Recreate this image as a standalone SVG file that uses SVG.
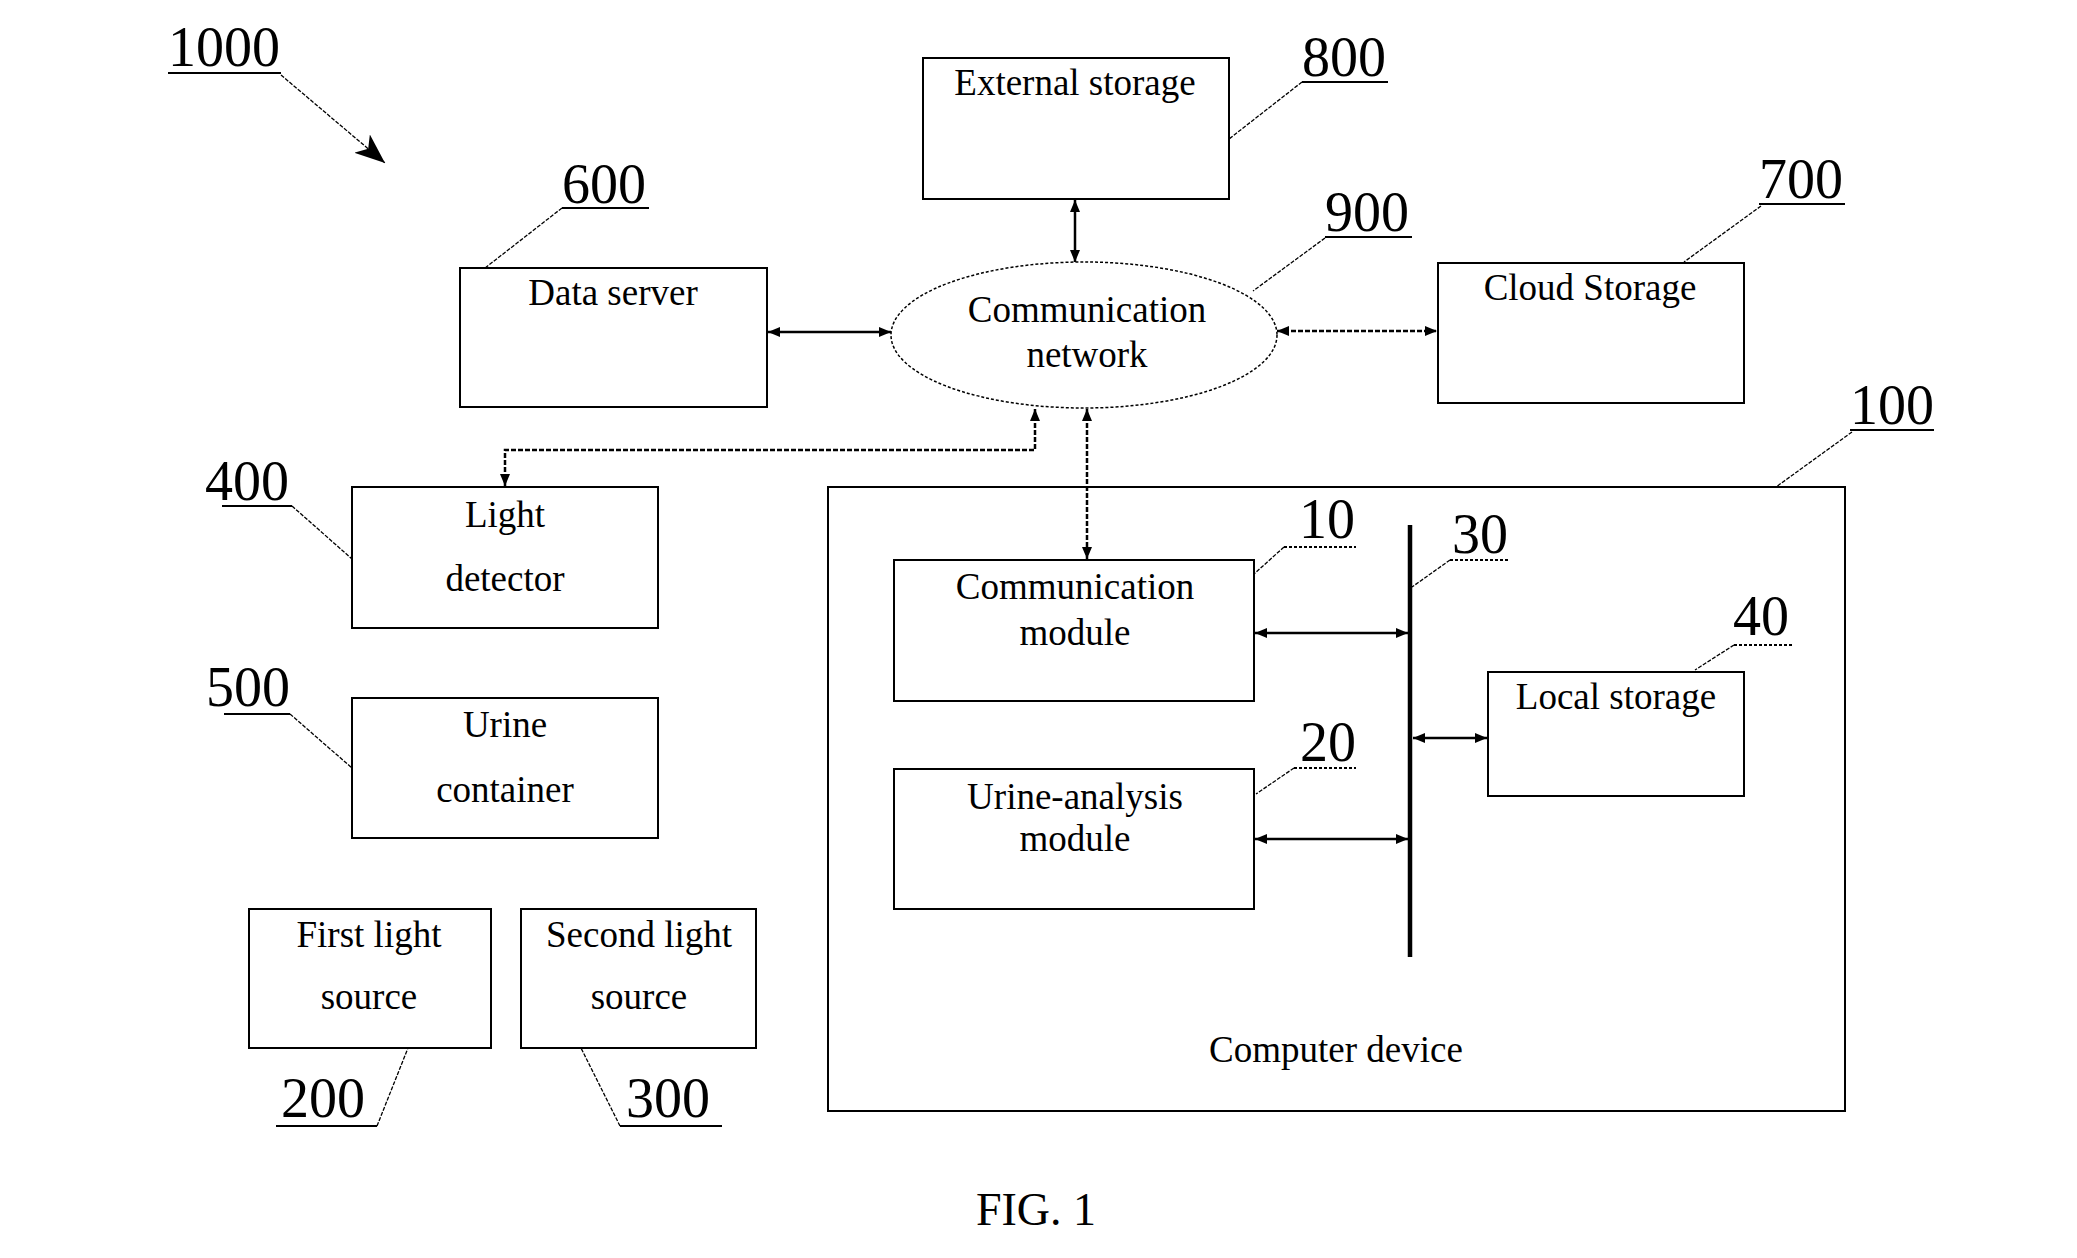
<svg xmlns="http://www.w3.org/2000/svg" width="2077" height="1258" viewBox="0 0 2077 1258">
<style>
.box{fill:#fff;stroke:#000;stroke-width:2}
.t{font-family:"Liberation Serif","Times New Roman",serif;font-size:37px;fill:#000;text-anchor:middle}
.n{font-family:"Liberation Serif","Times New Roman",serif;font-size:56px;fill:#000}
.ul{stroke:#000;stroke-width:2}
.uld{stroke:#000;stroke-width:2;stroke-dasharray:3 2}
.lead{fill:none;stroke:#000;stroke-width:1.3;stroke-dasharray:4 1.5}
.c{fill:none;stroke:#000;stroke-width:2.5}
.cd{fill:none;stroke:#000;stroke-width:2.5;stroke-dasharray:5 2}
</style>
<defs>
<marker id="ah" viewBox="0 0 12 10" refX="12" refY="5" markerWidth="12" markerHeight="10" markerUnits="userSpaceOnUse" orient="auto-start-reverse">
<path d="M0,0 L12,5 L0,10 Z" fill="#000"/>
</marker>
<marker id="big" viewBox="0 0 30 24" refX="30" refY="12" markerWidth="30" markerHeight="24" markerUnits="userSpaceOnUse" orient="auto">
<path d="M0,0 L30,12 L0,24 L8,12 Z" fill="#000"/>
</marker>
</defs>

<g id="label-1000">
<text class="n" x="168" y="66">1000</text>
<line class="ul" x1="168" y1="73" x2="281" y2="73"/>
<line class="lead" x1="281" y1="75" x2="385" y2="163" marker-end="url(#big)"/>
</g>

<g id="node-800">
<rect class="box" x="923" y="58" width="306" height="141"/>
<text class="t" x="1075" y="95">External storage</text>
<text class="n" x="1302" y="76">800</text>
<line class="ul" x1="1302" y1="82" x2="1388" y2="82"/>
<line class="lead" x1="1302" y1="82" x2="1229" y2="139"/>
</g>

<g id="node-600">
<rect class="box" x="460" y="268" width="307" height="139"/>
<text class="t" x="613" y="305">Data server</text>
<text class="n" x="562" y="203">600</text>
<line class="ul" x1="562" y1="208" x2="649" y2="208"/>
<line class="lead" x1="562" y1="208" x2="485" y2="268"/>
</g>

<g id="node-900">
<ellipse cx="1084" cy="335" rx="193" ry="73" fill="#fff" stroke="#000" stroke-width="1.5" stroke-dasharray="3 2"/>
<text class="t" x="1087" y="322">Communication</text>
<text class="t" x="1087" y="367">network</text>
<text class="n" x="1325" y="231">900</text>
<line class="ul" x1="1325" y1="237" x2="1412" y2="237"/>
<line class="lead" x1="1325" y1="238" x2="1253" y2="291"/>
</g>

<g id="node-700">
<rect class="box" x="1438" y="263" width="306" height="140"/>
<text class="t" x="1590" y="300">Cloud Storage</text>
<text class="n" x="1759" y="198">700</text>
<line class="ul" x1="1759" y1="204" x2="1845" y2="204"/>
<line class="lead" x1="1761" y1="206" x2="1684" y2="262"/>
</g>

<g id="node-400">
<rect class="box" x="352" y="487" width="306" height="141"/>
<text class="t" x="505" y="527">Light</text>
<text class="t" x="505" y="591">detector</text>
<text class="n" x="205" y="500">400</text>
<line class="ul" x1="222" y1="506" x2="292" y2="506"/>
<line class="lead" x1="292" y1="506" x2="352" y2="559"/>
</g>

<g id="node-500">
<rect class="box" x="352" y="698" width="306" height="140"/>
<text class="t" x="505" y="737">Urine</text>
<text class="t" x="505" y="802">container</text>
<text class="n" x="206" y="706">500</text>
<line class="ul" x1="224" y1="714" x2="290" y2="714"/>
<line class="lead" x1="290" y1="714" x2="352" y2="768"/>
</g>

<g id="node-200">
<rect class="box" x="249" y="909" width="242" height="139"/>
<text class="t" x="369" y="947">First light</text>
<text class="t" x="369" y="1009">source</text>
<text class="n" x="281" y="1117">200</text>
<line class="ul" x1="276" y1="1126" x2="377" y2="1126"/>
<line class="lead" x1="377" y1="1126" x2="408" y2="1048"/>
</g>

<g id="node-300">
<rect class="box" x="521" y="909" width="235" height="139"/>
<text class="t" x="639" y="947">Second light</text>
<text class="t" x="639" y="1009">source</text>
<text class="n" x="626" y="1117">300</text>
<line class="ul" x1="620" y1="1126" x2="722" y2="1126"/>
<line class="lead" x1="620" y1="1126" x2="581" y2="1048"/>
</g>

<g id="node-100">
<rect class="box" x="828" y="487" width="1017" height="624"/>
<text class="t" x="1336" y="1062">Computer device</text>
<text class="n" x="1850" y="424">100</text>
<line class="ul" x1="1850" y1="430" x2="1934" y2="430"/>
<line class="lead" x1="1852" y1="432" x2="1776" y2="487"/>
</g>

<g id="node-10">
<rect class="box" x="894" y="560" width="360" height="141"/>
<text class="t" x="1075" y="599">Communication</text>
<text class="t" x="1075" y="645">module</text>
<text class="n" x="1299" y="538">10</text>
<line class="uld" x1="1284" y1="547" x2="1356" y2="547"/>
<line class="lead" x1="1284" y1="547" x2="1254" y2="574"/>
</g>

<g id="node-20">
<rect class="box" x="894" y="769" width="360" height="140"/>
<text class="t" x="1075" y="809">Urine-analysis</text>
<text class="t" x="1075" y="851">module</text>
<text class="n" x="1300" y="761">20</text>
<line class="uld" x1="1294" y1="768" x2="1356" y2="768"/>
<line class="lead" x1="1294" y1="768" x2="1256" y2="794"/>
</g>

<g id="node-30">
<line x1="1410" y1="525" x2="1410" y2="957" stroke="#000" stroke-width="4.5"/>
<text class="n" x="1452" y="553">30</text>
<line class="uld" x1="1450" y1="560" x2="1510" y2="560"/>
<line class="lead" x1="1450" y1="560" x2="1412" y2="587"/>
</g>

<g id="node-40">
<rect class="box" x="1488" y="672" width="256" height="124"/>
<text class="t" x="1616" y="709">Local storage</text>
<text class="n" x="1733" y="635">40</text>
<line class="uld" x1="1734" y1="645" x2="1792" y2="645"/>
<line class="lead" x1="1734" y1="645" x2="1695" y2="670"/>
</g>

<g id="connectors">
<line class="c" x1="1075" y1="200" x2="1075" y2="262" marker-start="url(#ah)" marker-end="url(#ah)"/>
<line class="c" x1="768" y1="332" x2="891" y2="332" marker-start="url(#ah)" marker-end="url(#ah)"/>
<line class="cd" x1="1277" y1="331" x2="1437" y2="331" marker-start="url(#ah)" marker-end="url(#ah)"/>
<polyline class="cd" points="1035,409 1035,450 505,450 505,486" marker-start="url(#ah)" marker-end="url(#ah)"/>
<line class="cd" x1="1087" y1="409" x2="1087" y2="559" marker-start="url(#ah)" marker-end="url(#ah)"/>
<line class="c" x1="1255" y1="633" x2="1408" y2="633" marker-start="url(#ah)" marker-end="url(#ah)"/>
<line class="c" x1="1255" y1="839" x2="1408" y2="839" marker-start="url(#ah)" marker-end="url(#ah)"/>
<line class="c" x1="1413" y1="738" x2="1487" y2="738" marker-start="url(#ah)" marker-end="url(#ah)"/>
</g>

<text x="1036" y="1225" font-family="Liberation Serif, Times New Roman, serif" font-size="46" text-anchor="middle">FIG. 1</text>
</svg>
